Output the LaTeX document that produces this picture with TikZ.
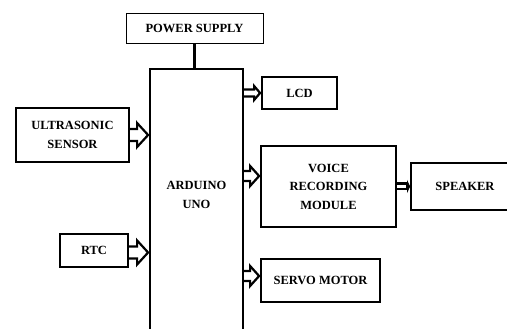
\documentclass[tikz,border=0pt]{standalone}
\usepackage{fontspec}
\setmainfont{Liberation Serif}
\usetikzlibrary{arrows.meta,positioning,calc}

% fleche creuse : #1 depart, #2 pointe, #3 demi-largeur
\newcommand{\flechecreuse}[3]{%
  \draw[contour]
    ($(#1)+(0,-#3)$) -- ($(#2)+(-2*#3,-#3)$) -- ($(#2)+(-2*#3,-2*#3)$)
    -- ($(#2)+(-1,0)$) -- ($(#2)+(-2*#3,2*#3)$) -- ($(#2)+(-2*#3,#3)$)
    -- ($(#1)+(0,#3)$);}

\begin{document}
\begin{tikzpicture}[x=1pt,y=-1pt,
  bloc/.style={draw, line width=1.8pt, align=center,
               font=\fontsize{12.5}{18.5}\selectfont\bfseries},
  contour/.style={line width=2.2pt, line join=miter},
  fil/.style={line width=8pt, -{Triangle[length=3pt,width=13pt]},
              postaction={draw=white, line width=3pt, -, shorten >=4pt}}]

  \useasboundingbox (0,0) rectangle (507,329);

  \node[bloc,line width=0.8pt,minimum width=137pt,minimum height=30pt]
    (alim) at (194.5,28) {POWER SUPPLY};
  \node[bloc,minimum width=93pt,minimum height=276pt,
    label={[font=\fontsize{12.5}{18.5}\selectfont\bfseries,align=center,yshift=12pt]center:ARDUINO\\UNO}]
    (uno) at (196.5,207) {};
  \node[bloc,minimum width=113pt,minimum height=54pt]
    (ultra) at (72.5,135) {ULTRASONIC\\SENSOR};
  \node[bloc,minimum width=68pt,minimum height=33pt]
    (rtc) at (94,250.5) {RTC};
  \node[bloc,minimum width=75pt,minimum height=32pt]
    (lcd) at (299.5,93) {LCD};
  \node[bloc,minimum width=135pt,minimum height=81pt]
    (voix) at (328.5,186.5) {VOICE\\RECORDING\\MODULE};
  \node[bloc,minimum width=108pt,minimum height=47pt]
    (hp) at (465,186.5) {SPEAKER};
  \node[bloc,minimum width=119pt,minimum height=43pt]
    (servo) at (320.5,280.5) {SERVO MOTOR};

  \coordinate (pLcd) at (uno.east |- lcd.west);
  \coordinate (pVoix) at ([yshift=10.5pt]uno.east |- voix.west);
  \coordinate (pServo) at ([yshift=4.5pt]uno.east |- servo.west);
  \coordinate (pRtc) at ([yshift=-2pt]rtc.east);

  \draw[line width=3.5pt] (alim.south) -- (alim.south |- uno.north);
  \flechecreuse{ultra.east}{ultra.east -| uno.west}{6}
  \flechecreuse{pRtc}{pRtc -| uno.west}{6}
  \flechecreuse{pLcd}{pLcd -| lcd.west}{3.5}
  \flechecreuse{pVoix}{pVoix -| voix.west}{5}
  \flechecreuse{pServo}{pServo -| servo.west}{5}
  \draw[fil] (voix.east) -- (hp.west);
\end{tikzpicture}
\end{document}
